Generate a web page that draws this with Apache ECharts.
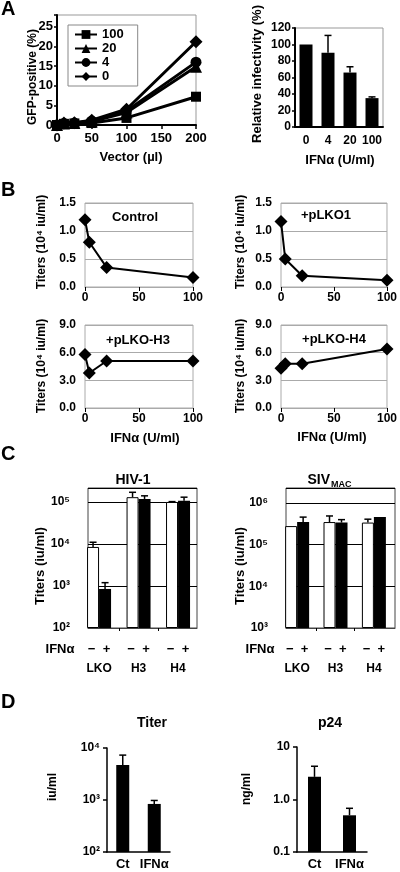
<!DOCTYPE html>
<html><head><meta charset="utf-8">
<script src="https://cdn.jsdelivr.net/npm/echarts@6/dist/echarts.min.js"></script>
<style>html,body{margin:0;padding:0;background:#fff}#c{width:400px;height:872px}</style>
</head><body><div id="c"></div>
<script>
// ---------------- data ----------------
// Panel A (left): GFP-positive (%) vs vector volume, one series per IFN dose
const vectorVolumes = [0, 10, 25, 50, 100, 200];
const gfpIfn100 = [0, 0.3, 0.4, 0.5, 1.8, 7.2];
const gfpIfn20  = [0, 0.4, 0.5, 0.9, 3.2, 14.8];
const gfpIfn4   = [0, 0.4, 0.5, 1.0, 3.6, 16.0];
const gfpIfn0   = [0, 0.5, 0.6, 1.2, 4.0, 21.2];
const gfpSeriesNames = ['100', '20', '4', '0'];

// Panel A (right): relative infectivity
const ifnCategories = ['0', '4', '20', '100'];
const relInfectivity = [100, 90, 66, 35];
const relInfectivityErrTop = [100, 111, 73, 36.5];

// Panel B: titers (10^4 iu/ml) vs IFN dose
const ifnDoses = [0, 4, 20, 100];
const titerControl = [1.2, 0.8, 0.35, 0.17];
const titerPLKO1   = [1.17, 0.5, 0.2, 0.12];
const titerPLKOH3  = [5.8, 3.8, 5.1, 5.1];
const titerPLKOH4  = [4.3, 4.8, 4.8, 6.4];

// Panel C: titers (iu/ml), without (-) and with (+) IFN
const cGroups = ['LKO', 'H3', 'H4'];
const hivMinus = [8500, 130000, 100000];
const hivMinusErrTop = [11000, 170000, 102000];
const hivPlus = [850, 118000, 107000];
const hivPlusErrTop = [1200, 140000, 130000];
const sivMinus = [280000, 350000, 340000];
const sivMinusErrTop = [280000, 490000, 410000];
const sivPlus = [350000, 340000, 460000];
const sivPlusErrTop = [460000, 400000, 460000];

// Panel D
const dCategories = ['Ct', 'IFNα'];
const titerD = [4700, 840];
const titerDErrTop = [7300, 980];
const p24D = [2.7, 0.5];
const p24DErrTop = [4.3, 0.68];

// ---------------- style helpers ----------------
const F = 'Liberation Sans, Arial, Helvetica, sans-serif';
const B = {fontFamily: F, fontWeight: 'bold', color: '#000'};
const SUP = {'0':'⁰','1':'¹','2':'²','3':'³','4':'⁴','5':'⁵','6':'⁶','7':'⁷'};
function pow10Label(v) {
  const l = Math.log10(v), r = Math.round(l);
  if (Math.abs(l - r) > 1e-6) return '';
  return '10' + SUP[r];
}
const pairs = (xs, ys) => xs.map((x, i) => [x, ys[i]]);
const triples = (ys, es) => ys.map((y, i) => [i, y, es[i]]);

function errSeries(xi, data, offset) {
  return {
    type: 'custom', xAxisIndex: xi, yAxisIndex: xi, data: data, z: 5, silent: true,
    renderItem: function (params, api) {
      const x = api.value(0), v = api.value(1), e = api.value(2);
      if (!(e > v * 1.001)) return null;
      const p0 = api.coord([x, v]), p1 = api.coord([x, e]);
      const cx = p0[0] + offset;
      return {type: 'group', children: [
        {type: 'line', shape: {x1: cx, y1: p0[1], x2: cx, y2: p1[1]}, style: {stroke: '#000', lineWidth: 1.5}},
        {type: 'line', shape: {x1: cx - 3.5, y1: p1[1], x2: cx + 3.5, y2: p1[1]}, style: {stroke: '#000', lineWidth: 1.5}}
      ]};
    }
  };
}

// ---------------- layout ----------------
const grids = [
  {left: 57,  top: 15,  width: 139, height: 110, show: true, borderColor: '#999', borderWidth: 1}, // A left
  {left: 295, top: 28,  width: 88,  height: 99,  show: true, borderColor: '#999', borderWidth: 1}, // A right
  {left: 85,  top: 203, width: 108, height: 84,  show: true, borderColor: '#aaa', borderWidth: 1}, // B control
  {left: 281, top: 203, width: 108, height: 84,  show: true, borderColor: '#aaa', borderWidth: 1}, // B pLKO1
  {left: 85,  top: 325, width: 108, height: 83,  show: true, borderColor: '#aaa', borderWidth: 1}, // B H3
  {left: 281, top: 325, width: 108, height: 83,  show: true, borderColor: '#aaa', borderWidth: 1}, // B H4
  {left: 88,  top: 488, width: 109, height: 140, show: true, borderColor: '#444', borderWidth: 1}, // C HIV
  {left: 286, top: 488, width: 109, height: 140, show: true, borderColor: '#444', borderWidth: 1}, // C SIV
  {left: 107, top: 748, width: 63,  height: 104}, // D titer
  {left: 297, top: 747, width: 70,  height: 105}  // D p24
];

const blackAxis = {lineStyle: {color: '#000', width: 2}};
const xAxes = [];
const yAxes = [];

// A left
xAxes.push({gridIndex: 0, type: 'value', min: 0, max: 200, interval: 50,
  axisLine: blackAxis, axisTick: {length: 4, lineStyle: {color: '#000', width: 1.5}},
  axisLabel: {...B, fontSize: 13, margin: 7}, splitLine: {show: false}});
yAxes.push({gridIndex: 0, type: 'value', min: 0, max: 28, interval: 5,
  axisLine: {show: true, ...blackAxis}, axisTick: {show: true, length: 3, lineStyle: {color: '#000', width: 1.5}},
  axisLabel: {...B, fontSize: 13, margin: 4, formatter: v => (v % 5 === 0 ? String(v) : '')}, splitLine: {show: false}});
// A right
xAxes.push({gridIndex: 1, type: 'category', data: ifnCategories,
  axisLine: blackAxis, axisTick: {length: 4, lineStyle: {color: '#000', width: 1.5}},
  axisLabel: {...B, fontSize: 12, margin: 8, interval: 0}});
yAxes.push({gridIndex: 1, type: 'value', min: 0, max: 120, interval: 20,
  axisLine: {show: true, ...blackAxis}, axisTick: {show: true, length: 3, lineStyle: {color: '#000', width: 1.5}},
  axisLabel: {...B, fontSize: 12, margin: 4}, splitLine: {show: false}});
// B
for (let k = 0; k < 4; k++) {
  xAxes.push({gridIndex: 2 + k, type: 'value', min: 0, max: 100, interval: 50,
    axisLine: {lineStyle: {color: '#aaa', width: 1}}, axisTick: {length: 4, lineStyle: {color: '#000', width: 1}},
    axisLabel: {...B, fontSize: 12, margin: 5}, splitLine: {show: false}});
  const big = k >= 2;
  yAxes.push({gridIndex: 2 + k, type: 'value', min: 0, max: big ? 9 : 1.5, interval: big ? 3 : 0.5,
    axisLine: {show: false}, axisTick: {show: false},
    axisLabel: {...B, fontSize: 12, margin: 9, formatter: v => v.toFixed(1)},
    splitLine: {show: true, lineStyle: {color: '#aaa', width: 1}}});
}
// C
const cLabel = {
  ...B, customValues: [0, 1, 2], margin: 11,
  formatter: v => '{pm|−  +}\n{g|' + cGroups[Math.round(v)] + '}',
  rich: {pm: {...B, fontSize: 13, lineHeight: 20}, g: {...B, fontSize: 12, lineHeight: 20}}
};
xAxes.push({gridIndex: 6, type: 'value', min: -0.28, max: 2.48,
  axisLine: {lineStyle: {color: '#444', width: 1}},
  axisTick: {show: true, customValues: [0.5, 1.5], length: 3, lineStyle: {color: '#000'}},
  axisLabel: cLabel, splitLine: {show: false}});
yAxes.push({gridIndex: 6, type: 'log', logBase: 10, min: 100, max: 215000, startValue: 100,
  axisLine: {show: false}, axisTick: {show: false},
  axisLabel: {...B, fontSize: 12, margin: 18, formatter: pow10Label},
  splitLine: {show: true, lineStyle: {color: '#000', width: 1}}});
xAxes.push({gridIndex: 7, type: 'value', min: -0.29, max: 2.55,
  axisLine: {lineStyle: {color: '#444', width: 1}},
  axisTick: {show: true, customValues: [0.5, 1.5], length: 3, lineStyle: {color: '#000'}},
  axisLabel: cLabel, splitLine: {show: false}});
yAxes.push({gridIndex: 7, type: 'log', logBase: 10, min: 1000, max: 2300000, startValue: 1000,
  axisLine: {show: false}, axisTick: {show: false},
  axisLabel: {...B, fontSize: 12, margin: 18, formatter: pow10Label},
  splitLine: {show: true, lineStyle: {color: '#000', width: 1}}});
// D
xAxes.push({gridIndex: 8, type: 'category', data: dCategories,
  axisLine: {lineStyle: {color: '#000', width: 1.5}}, axisTick: {show: false},
  axisLabel: {...B, fontSize: 13, margin: 6, interval: 0}});
yAxes.push({gridIndex: 8, type: 'log', logBase: 10, min: 100, max: 10000, startValue: 100,
  axisLine: {show: true, lineStyle: {color: '#000', width: 1.5}},
  axisTick: {show: true, length: 4, lineStyle: {color: '#000', width: 1.5}},
  axisLabel: {...B, fontSize: 12, margin: 7, formatter: pow10Label}, splitLine: {show: false}});
xAxes.push({gridIndex: 9, type: 'category', data: dCategories,
  axisLine: {lineStyle: {color: '#000', width: 1.5}}, axisTick: {show: false},
  axisLabel: {...B, fontSize: 13, margin: 6, interval: 0}});
yAxes.push({gridIndex: 9, type: 'log', logBase: 10, min: 0.1, max: 10, startValue: 0.1,
  axisLine: {show: true, lineStyle: {color: '#000', width: 1.5}},
  axisTick: {show: true, length: 4, lineStyle: {color: '#000', width: 1.5}},
  axisLabel: {...B, fontSize: 12, margin: 7, formatter: v => (Math.abs(v - 10) < 1e-6 ? '10' : Math.abs(v - 1) < 1e-6 ? '1.0' : Math.abs(v - 0.1) < 1e-6 ? '0.1' : '')},
  splitLine: {show: false}});

// ---------------- series ----------------
const series = [];
const gfpData = [gfpIfn100, gfpIfn20, gfpIfn4, gfpIfn0];
const gfpSymbols = ['rect', 'triangle', 'circle', 'diamond'];
const gfpSymSize = [10, 12, 11, 13];
gfpData.forEach((d, i) => series.push({
  type: 'line', name: gfpSeriesNames[i], xAxisIndex: 0, yAxisIndex: 0, data: pairs(vectorVolumes, d),
  symbol: gfpSymbols[i], symbolSize: gfpSymSize[i], showAllSymbol: true,
  lineStyle: {color: '#000', width: 3}, itemStyle: {color: '#000'}
}));

series.push({type: 'bar', xAxisIndex: 1, yAxisIndex: 1, data: relInfectivity, barWidth: 13, itemStyle: {color: '#000'}});
series.push(errSeries(1, triples(relInfectivity, relInfectivityErrTop), 0));

[titerControl, titerPLKO1, titerPLKOH3, titerPLKOH4].forEach((d, k) => series.push({
  type: 'line', name: 'b' + k, xAxisIndex: 2 + k, yAxisIndex: 2 + k, data: pairs(ifnDoses, d),
  symbol: 'diamond', symbolSize: 13, lineStyle: {color: '#000', width: 2}, itemStyle: {color: '#000'}
}));

function cBars(idx, minus, minusErr, plus, plusErr) {
  series.push({type: 'bar', xAxisIndex: idx, yAxisIndex: idx, data: minus.map((v, i) => [i, v]),
    barWidth: 12, barGap: '0%', itemStyle: {color: '#fff', borderColor: '#000', borderWidth: 1}});
  series.push({type: 'bar', xAxisIndex: idx, yAxisIndex: idx, data: plus.map((v, i) => [i, v]),
    barWidth: 12, barGap: '0%', itemStyle: {color: '#000'}});
  series.push(errSeries(idx, triples(minus, minusErr), -6));
  series.push(errSeries(idx, triples(plus, plusErr), 6));
}
cBars(6, hivMinus, hivMinusErrTop, hivPlus, hivPlusErrTop);
cBars(7, sivMinus, sivMinusErrTop, sivPlus, sivPlusErrTop);

series.push({type: 'bar', xAxisIndex: 8, yAxisIndex: 8, data: titerD, barWidth: 13, itemStyle: {color: '#000'}});
series.push(errSeries(8, triples(titerD, titerDErrTop), 0));
series.push({type: 'bar', xAxisIndex: 9, yAxisIndex: 9, data: p24D, barWidth: 13, itemStyle: {color: '#000'}});
series.push(errSeries(9, triples(p24D, p24DErrTop), 0));

// ---------------- texts ----------------
function txt(text, x, y, size, rot, align) {
  return {type: 'text', x: x, y: y, rotation: rot || 0, silent: true,
    style: {text: text, fontFamily: F, fontWeight: 'bold', fontSize: size, fill: '#000',
      textAlign: align || 'center', textVerticalAlign: 'middle'}};
}
const R = Math.PI / 2;
const texts = [
  txt('A', 1, 9, 20, 0, 'left'),
  txt('B', 1, 190, 20, 0, 'left'),
  txt('C', 1, 454, 20, 0, 'left'),
  txt('D', 1, 702, 20, 0, 'left'),
  txt('GFP-positive (%)', 33, 77, 12, R),
  txt('Vector (µl)', 131, 157, 13),
  txt('Relative infectivity (%)', 257, 74, 13, R),
  txt('IFNα (U/ml)', 340, 160, 13),
  txt('Titers (10⁴ iu/ml)', 42, 242, 12, R),
  txt('Titers (10⁴ iu/ml)', 241, 242, 12, R),
  txt('Titers (10⁴ iu/ml)', 42, 366, 12, R),
  txt('Titers (10⁴ iu/ml)', 241, 366, 12, R),
  txt('Control', 135, 217, 13),
  txt('+pLKO1', 326, 215, 13),
  txt('+pLKO-H3', 138, 340, 13),
  txt('+pLKO-H4', 334, 339, 13),
  txt('IFNα (U/ml)', 145, 438, 13),
  txt('IFNα (U/ml)', 332, 437, 13),
  txt('HIV-1', 133, 480, 14),
  txt('SIV', 330, 480, 14, 0, 'right'),
  txt('MAC', 331, 485, 9, 0, 'left'),
  txt('Titers (iu/ml)', 40, 566, 13, R),
  txt('Titers (iu/ml)', 240, 566, 13, R),
  txt('IFNα', 60, 649, 13),
  txt('IFNα', 260, 649, 13),
  txt('Titer', 152, 723, 14),
  txt('p24', 330, 723, 14),
  txt('iu/ml', 53, 787, 12, R),
  txt('ng/ml', 247, 789, 12, R)
];

const chart = echarts.init(document.getElementById('c'), null, {renderer: 'canvas'});
chart.setOption({
  animation: false,
  backgroundColor: '#fff',
  grid: grids,
  xAxis: xAxes,
  yAxis: yAxes,
  legend: {
    data: gfpSeriesNames, orient: 'vertical', left: 68, top: 25,
    borderColor: '#888', borderWidth: 1, backgroundColor: '#fff',
    padding: [3, 14, 3, 6], itemGap: 1, itemWidth: 22, itemHeight: 11,
    textStyle: {...B, fontSize: 13, lineHeight: 12}, selectedMode: false
  },
  series: series,
  graphic: {elements: texts}
});
</script></body></html>
